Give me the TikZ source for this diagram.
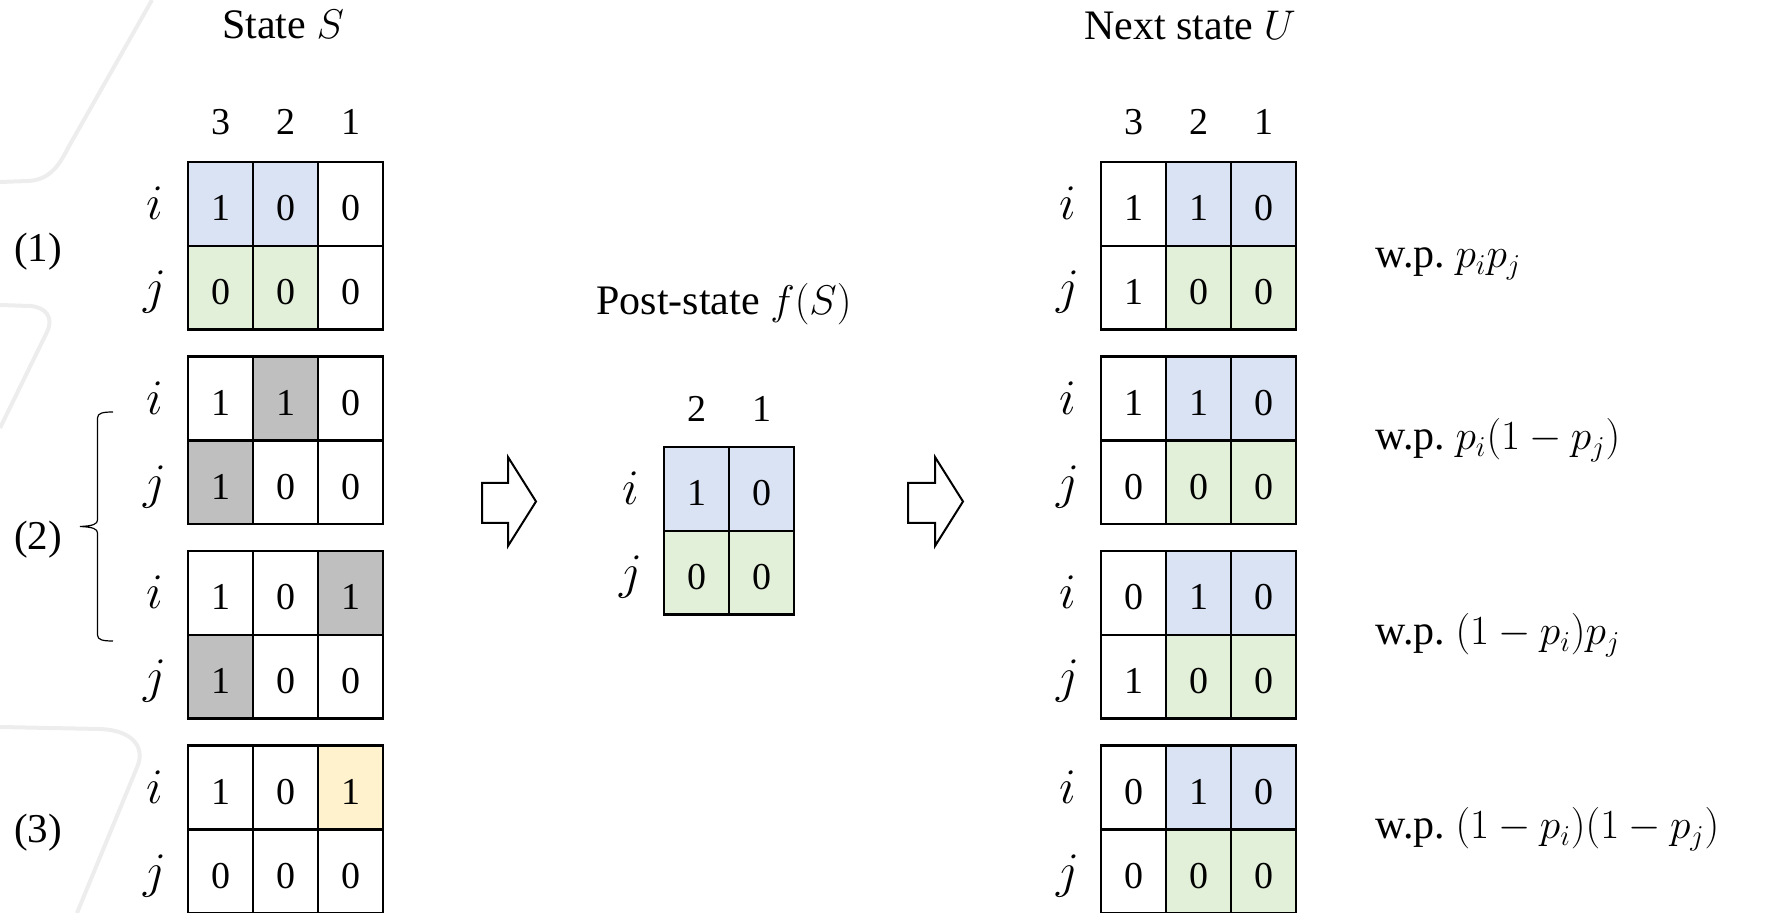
\documentclass[tikz,border=0pt]{standalone}
\usepackage{fontspec}
\setmainfont{Liberation Serif}
\usetikzlibrary{calc}
\definecolor{cblue}{HTML}{DAE3F3}
\definecolor{cgreen}{HTML}{E2F0D9}
\definecolor{cgray}{HTML}{BFBFBF}
\definecolor{cyel}{HTML}{FFF2CC}
\definecolor{swoosh}{HTML}{EDEDED}
\newcommand\mygrid[5]{%
  \foreach[count=\c] \f/\v in {#4}{
    \node[cellbox,fill=\f] (#1i\c) at ({#2+32.5+65*(\c-1)},{#3+42}) {\v};}
  \foreach[count=\c] \f/\v in {#5}{
    \node[cellbox,fill=\f] (#1j\c) at ({#2+32.5+65*(\c-1)},{#3+125.75}) {\v};}
  \node[rowlab] (#1li) at ({#2-33},{#3+42+16}) {$i$};
  \node[rowlab] (#1lj) at ({#2-33},{#3+125.75+16}) {$j$};
}
\tikzset{
  cellbox/.style={draw=black, line width=1.3pt, minimum width=32.5pt, minimum height=41.875pt,
    inner sep=0pt, outer sep=0pt, text height=17pt, text depth=0pt, font=\fontsize{19}{22}\selectfont},
  rowlab/.style={anchor=base, inner sep=0pt, font=\fontsize{23}{26}\selectfont},
  hdr/.style={anchor=base, inner sep=0pt, font=\fontsize{19}{22}\selectfont},
  titlelab/.style={anchor=base, inner sep=0pt, font=\fontsize{21}{25}\selectfont},
  grouplab/.style={inner sep=0pt, font=\fontsize{20.5}{24}\selectfont},
  wplab/.style={anchor=base west, inner sep=0pt, font=\fontsize{21}{25}\selectfont},
  blockarrow/.style={draw=black, line width=1pt, fill=white, line join=miter},
  bgline/.style={draw=swoosh, line width=2pt},
  bracestyle/.style={draw=black, line width=0.6pt}
}
\begin{document}
\begin{tikzpicture}[x=0.5pt, y=-0.5pt]
\useasboundingbox (0,0) rectangle (1773,913);
% faint background swooshes
\path[bgline] (152,0) -- (68,148) .. controls (58,168) and (48,180) .. (28,181) -- (0,182);
\path[bgline] (0,305) -- (30,306) .. controls (46,307) and (54,318) .. (47,332) -- (0,428);
\path[bgline] (0,727) -- (100,729) .. controls (130,730) and (145,745) .. (138,765) -- (77,913);
% titles
\node[titlelab] (tS) at (283,39) {State $S$};
\node[titlelab] (tU) at (1190,40) {Next state $U$};
\node[titlelab] (tF) at (724,315) {Post-state $f(S)$};
% column headers
\foreach \x/\t [count=\k] in {220.5/3,285.5/2,350.5/1}{\node[hdr] (hL\k) at (\x,135) {\t};}
\foreach \x/\t [count=\k] in {1133.5/3,1198.5/2,1263.5/1}{\node[hdr] (hR\k) at (\x,135) {\t};}
\foreach \x/\t [count=\k] in {696.5/2,761.5/1}{\node[hdr] (hP\k) at (\x,422) {\t};}
% left grids (state S)
\mygrid{La}{188}{162}{cblue/1,cblue/0,white/0}{cgreen/0,cgreen/0,white/0}
\mygrid{Lb}{188}{356.5}{white/1,cgray/1,white/0}{cgray/1,white/0,white/0}
\mygrid{Lc}{188}{551}{white/1,white/0,cgray/1}{cgray/1,white/0,white/0}
\mygrid{Ld}{188}{745.5}{white/1,white/0,cyel/1}{white/0,white/0,white/0}
% post-state grid
\mygrid{P}{664}{447}{cblue/1,cblue/0}{cgreen/0,cgreen/0}
% right grids (next state U)
\mygrid{Ra}{1101}{162}{white/1,cblue/1,cblue/0}{white/1,cgreen/0,cgreen/0}
\mygrid{Rb}{1101}{356.5}{white/1,cblue/1,cblue/0}{white/0,cgreen/0,cgreen/0}
\mygrid{Rc}{1101}{551}{white/0,cblue/1,cblue/0}{white/1,cgreen/0,cgreen/0}
\mygrid{Rd}{1101}{745.5}{white/0,cblue/1,cblue/0}{white/0,cgreen/0,cgreen/0}
% group labels
\node[grouplab] (g1) at (38,252) {(1)};
\node[grouplab] (g2) at (38,540) {(2)};
\node[grouplab] (g3) at (38,833) {(3)};
% brace for (2)
\path[bracestyle] (113,412) .. controls (103,412) and (97.5,413) .. (97.5,418) -- (97.5,520)
  .. controls (97.5,524) and (93,526) .. (80,526.5) .. controls (93,527) and (97.5,529) .. (97.5,533)
  -- (97.5,635) .. controls (97.5,640) and (103,641) .. (113,641);
% block arrows
\path[blockarrow] (482,483) -- (508,483) -- (508,457) -- (536,501.5) -- (508,546) -- (508,523) -- (482,523) -- cycle;
\path[blockarrow] (908,483) -- (935,483) -- (935,457) -- (963,501.5) -- (935,546) -- (935,523) -- (908,523) -- cycle;
% probabilities
\node[wplab] (w1) at (1375,268) {w.p.\ $p_ip_j$};
\node[wplab] (w2) at (1375,450) {w.p.\ $p_i(1-p_j)$};
\node[wplab] (w3) at (1375,645) {w.p.\ $(1-p_i)p_j$};
\node[wplab] (w4) at (1375,839) {w.p.\ $(1-p_i)(1-p_j)$};
\end{tikzpicture}
\end{document}
